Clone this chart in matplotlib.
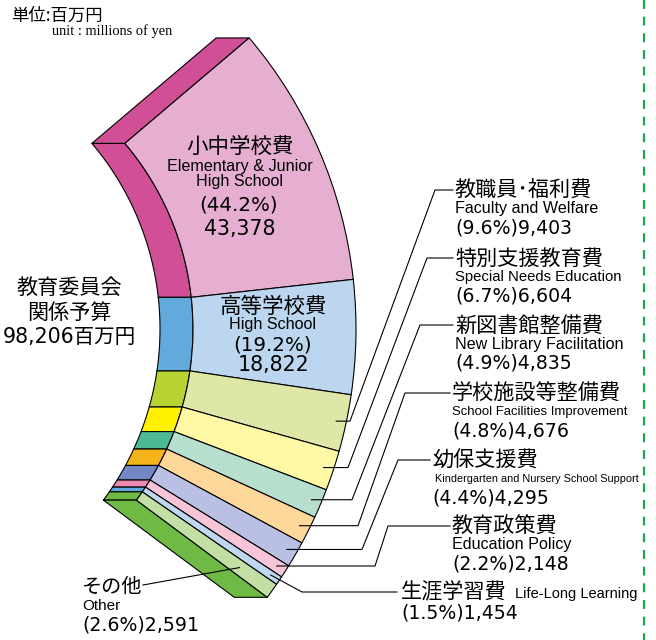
import numpy as np
import matplotlib
matplotlib.use('Agg')
import matplotlib.pyplot as plt
from matplotlib.patches import Wedge, Polygon

# ---- data ----
labels_ja = ['小中学校費', '高等学校費', '教職員･福利費', '特別支援教育費', '新図書館整備費',
             '学校施設等整備費', '幼保支援費', '教育政策費', '生涯学習費', 'その他']
labels_en = ['Elementary & Junior\nHigh School', 'High School', 'Faculty and Welfare',
             'Special Needs Education', 'New Library Facilitation', 'School Facilities Improvement',
             'Kindergarten and Nursery School Support', 'Education Policy', 'Life-Long Learning', 'Other']
values = [43378, 18822, 9403, 6604, 4835, 4676, 4295, 2148, 1454, 2591]
percents = [44.2, 19.2, 9.6, 6.7, 4.9, 4.8, 4.4, 2.2, 1.5, 2.6]
total_label = ['教育委員会', '関係予算', '98,206百万円']

light_colors = ['#E6AED0', '#BCD6EF', '#DFE7A8', '#FFF8A5', '#B6DFCE', '#FDD89A',
                '#B9C0E3', '#F6C5D8', '#BED8F1', '#C3DFA5']
dark_colors = ['#D04F96', '#62A9DC', '#B7D331', '#FFF100', '#4DB894', '#F5B31A',
               '#7487C5', '#EB8AB3', '#5DAADE', '#6EBA45']

# ---- geometry (layout) ----
CX, CY = -94, 329
R_OUT, R_IN = 450, 287
DEPTH = 33
TOP, SWEEP = 40.3, 76.9

JP = ['Noto Sans CJK JP']
EN = ['Liberation Sans', 'Noto Sans CJK JP']
NUM = ['DejaVu Sans', 'Noto Sans CJK JP']
LW = 0.8

fig = plt.figure(figsize=(6.56, 6.4), dpi=100)
ax = fig.add_axes([0, 0, 1, 1])
ax.set_xlim(0, 656)
ax.set_ylim(640, 0)
ax.axis('off')
renderer = fig.canvas.get_renderer()


def pt(r, ang):
    a = np.radians(ang)
    return CX + r * np.cos(a), CY - r * np.sin(a)


def fit(t, width):
    w = t.get_window_extent(renderer=renderer).width
    if w > width:
        t.set_fontsize(t.get_fontsize() * width / w)


total = sum(values)
cum = np.concatenate([[0], np.cumsum(values)]) / total
angs = TOP - cum * SWEEP
mids = (angs[:-1] + angs[1:]) / 2

# inner side faces (dark)
for i in range(len(values)):
    t = np.linspace(angs[i], angs[i + 1], 40)
    xs, ys = pt(R_IN, t)
    poly = list(zip(xs, ys)) + list(zip(xs[::-1] - DEPTH, ys[::-1]))
    ax.add_patch(Polygon(poly, closed=True, fc=dark_colors[i], ec='black', lw=LW, joinstyle='round'))

# top and bottom faces
for ang, col in [(angs[0], dark_colors[0]), (angs[-1], dark_colors[-1])]:
    x1, y1 = pt(R_IN, ang)
    x2, y2 = pt(R_OUT, ang)
    ax.add_patch(Polygon([(x1, y1), (x2, y2), (x2 - DEPTH, y2), (x1 - DEPTH, y1)], closed=True,
                         fc=col, ec='black', lw=LW, joinstyle='round'))

# front faces
for i in range(len(values)):
    ax.add_patch(Wedge((CX, CY), R_OUT, -angs[i], -angs[i + 1], width=R_OUT - R_IN,
                       fc=light_colors[i], ec='black', lw=LW, joinstyle='round'))

# ---- leaders ----
leader_r = 440
# (elbow x after horizontal tick, bend point, end x, english width)
leader_layout = {
    2: (350, (435, 190), 453, 145),
    3: (348, (427, 258), 453, 167),
    4: (352, (420, 325), 453, 173),
    5: (358, (405, 393), 450, 175),
    6: (362, (398, 460), 430, 203),
    7: (375, (388, 526), 450, 123),
}
for i, (ex, (bx, by), endx, _) in leader_layout.items():
    x0, y0 = pt(leader_r, mids[i])
    ax.plot([x0, ex, bx, endx], [y0, y0, by, by], color='black', lw=LW, solid_joinstyle='miter')

# life-long learning
x0, y0 = pt(leader_r, mids[8])
ax.plot([x0, 302, 397], [y0, 592, 592], color='black', lw=LW)
# other
x0, y0 = pt(410, mids[9])
ax.plot([x0, 143], [y0, 585], color='black', lw=LW)

# ---- texts ----
def pct_line(i):
    return '(%.1f%%)%s' % (percents[i], format(values[i], ','))

# unit
ax.text(11, 16, '単位:百万円', fontsize=12.5, family=JP, va='center', ha='left')
ax.text(52, 31, 'unit : millions of yen', fontsize=10.4, family=['Liberation Serif'], va='center', ha='left')

# total
for k, (s, y) in enumerate(zip(total_label, [288, 313, 337])):
    ax.text(69, y, s, fontsize=14.8 if k == 2 else 15.2, family=NUM if k == 2 else JP,
            va='center', ha='center')

# big segments
ax.text(240, 147, labels_ja[0], fontsize=15.5, family=JP, va='center', ha='center')
ax.text(240, 174, labels_en[0], fontsize=11.6, family=EN, va='center', ha='center', linespacing=0.95)
ax.text(239, 205, '(%.1f%%)' % percents[0], fontsize=14.3, family=NUM, va='center', ha='center')
ax.text(240, 229, format(values[0], ','), fontsize=14.8, family=NUM, va='center', ha='center')

ax.text(273, 307, labels_ja[1], fontsize=15.5, family=JP, va='center', ha='center')
ax.text(273, 324, labels_en[1], fontsize=11.6, family=EN, va='center', ha='center')
ax.text(273, 345, '(%.1f%%)' % percents[1], fontsize=14.3, family=NUM, va='center', ha='center')
ax.text(273, 365, format(values[1], ','), fontsize=14.8, family=NUM, va='center', ha='center')

# right labels
for i, (ex, (bx, by), endx, ew) in leader_layout.items():
    tx = endx + 2
    ax.text(tx, by + 1, labels_ja[i], fontsize=15.2, family=JP, va='center', ha='left')
    t = ax.text(tx + (3 if i == 6 else 0), by + 19, labels_en[i], fontsize=11.6, family=EN,
                va='center', ha='left')
    fit(t, ew)
    ax.text(tx, by + 38, pct_line(i), fontsize=13.6, family=NUM, va='center', ha='left')

# life-long learning
ax.text(401, 592, labels_ja[8], fontsize=15.2, family=JP, va='center', ha='left')
ax.text(515, 594, labels_en[8], fontsize=10.5, family=EN, va='center', ha='left')
ax.text(401, 613, pct_line(8), fontsize=13.6, family=NUM, va='center', ha='left')

# other
ax.text(82, 587, labels_ja[9], fontsize=14.5, family=JP, va='center', ha='left')
ax.text(82, 606, labels_en[9], fontsize=11, family=EN, va='center', ha='left')
ax.text(82, 625, pct_line(9), fontsize=13.6, family=NUM, va='center', ha='left')

# green dashed separator
ax.plot([644, 644], [0, 640], color='#1DAA4E', lw=1.6, ls=(0, (4, 3.5)))

fig.savefig('out.png', dpi=100)
